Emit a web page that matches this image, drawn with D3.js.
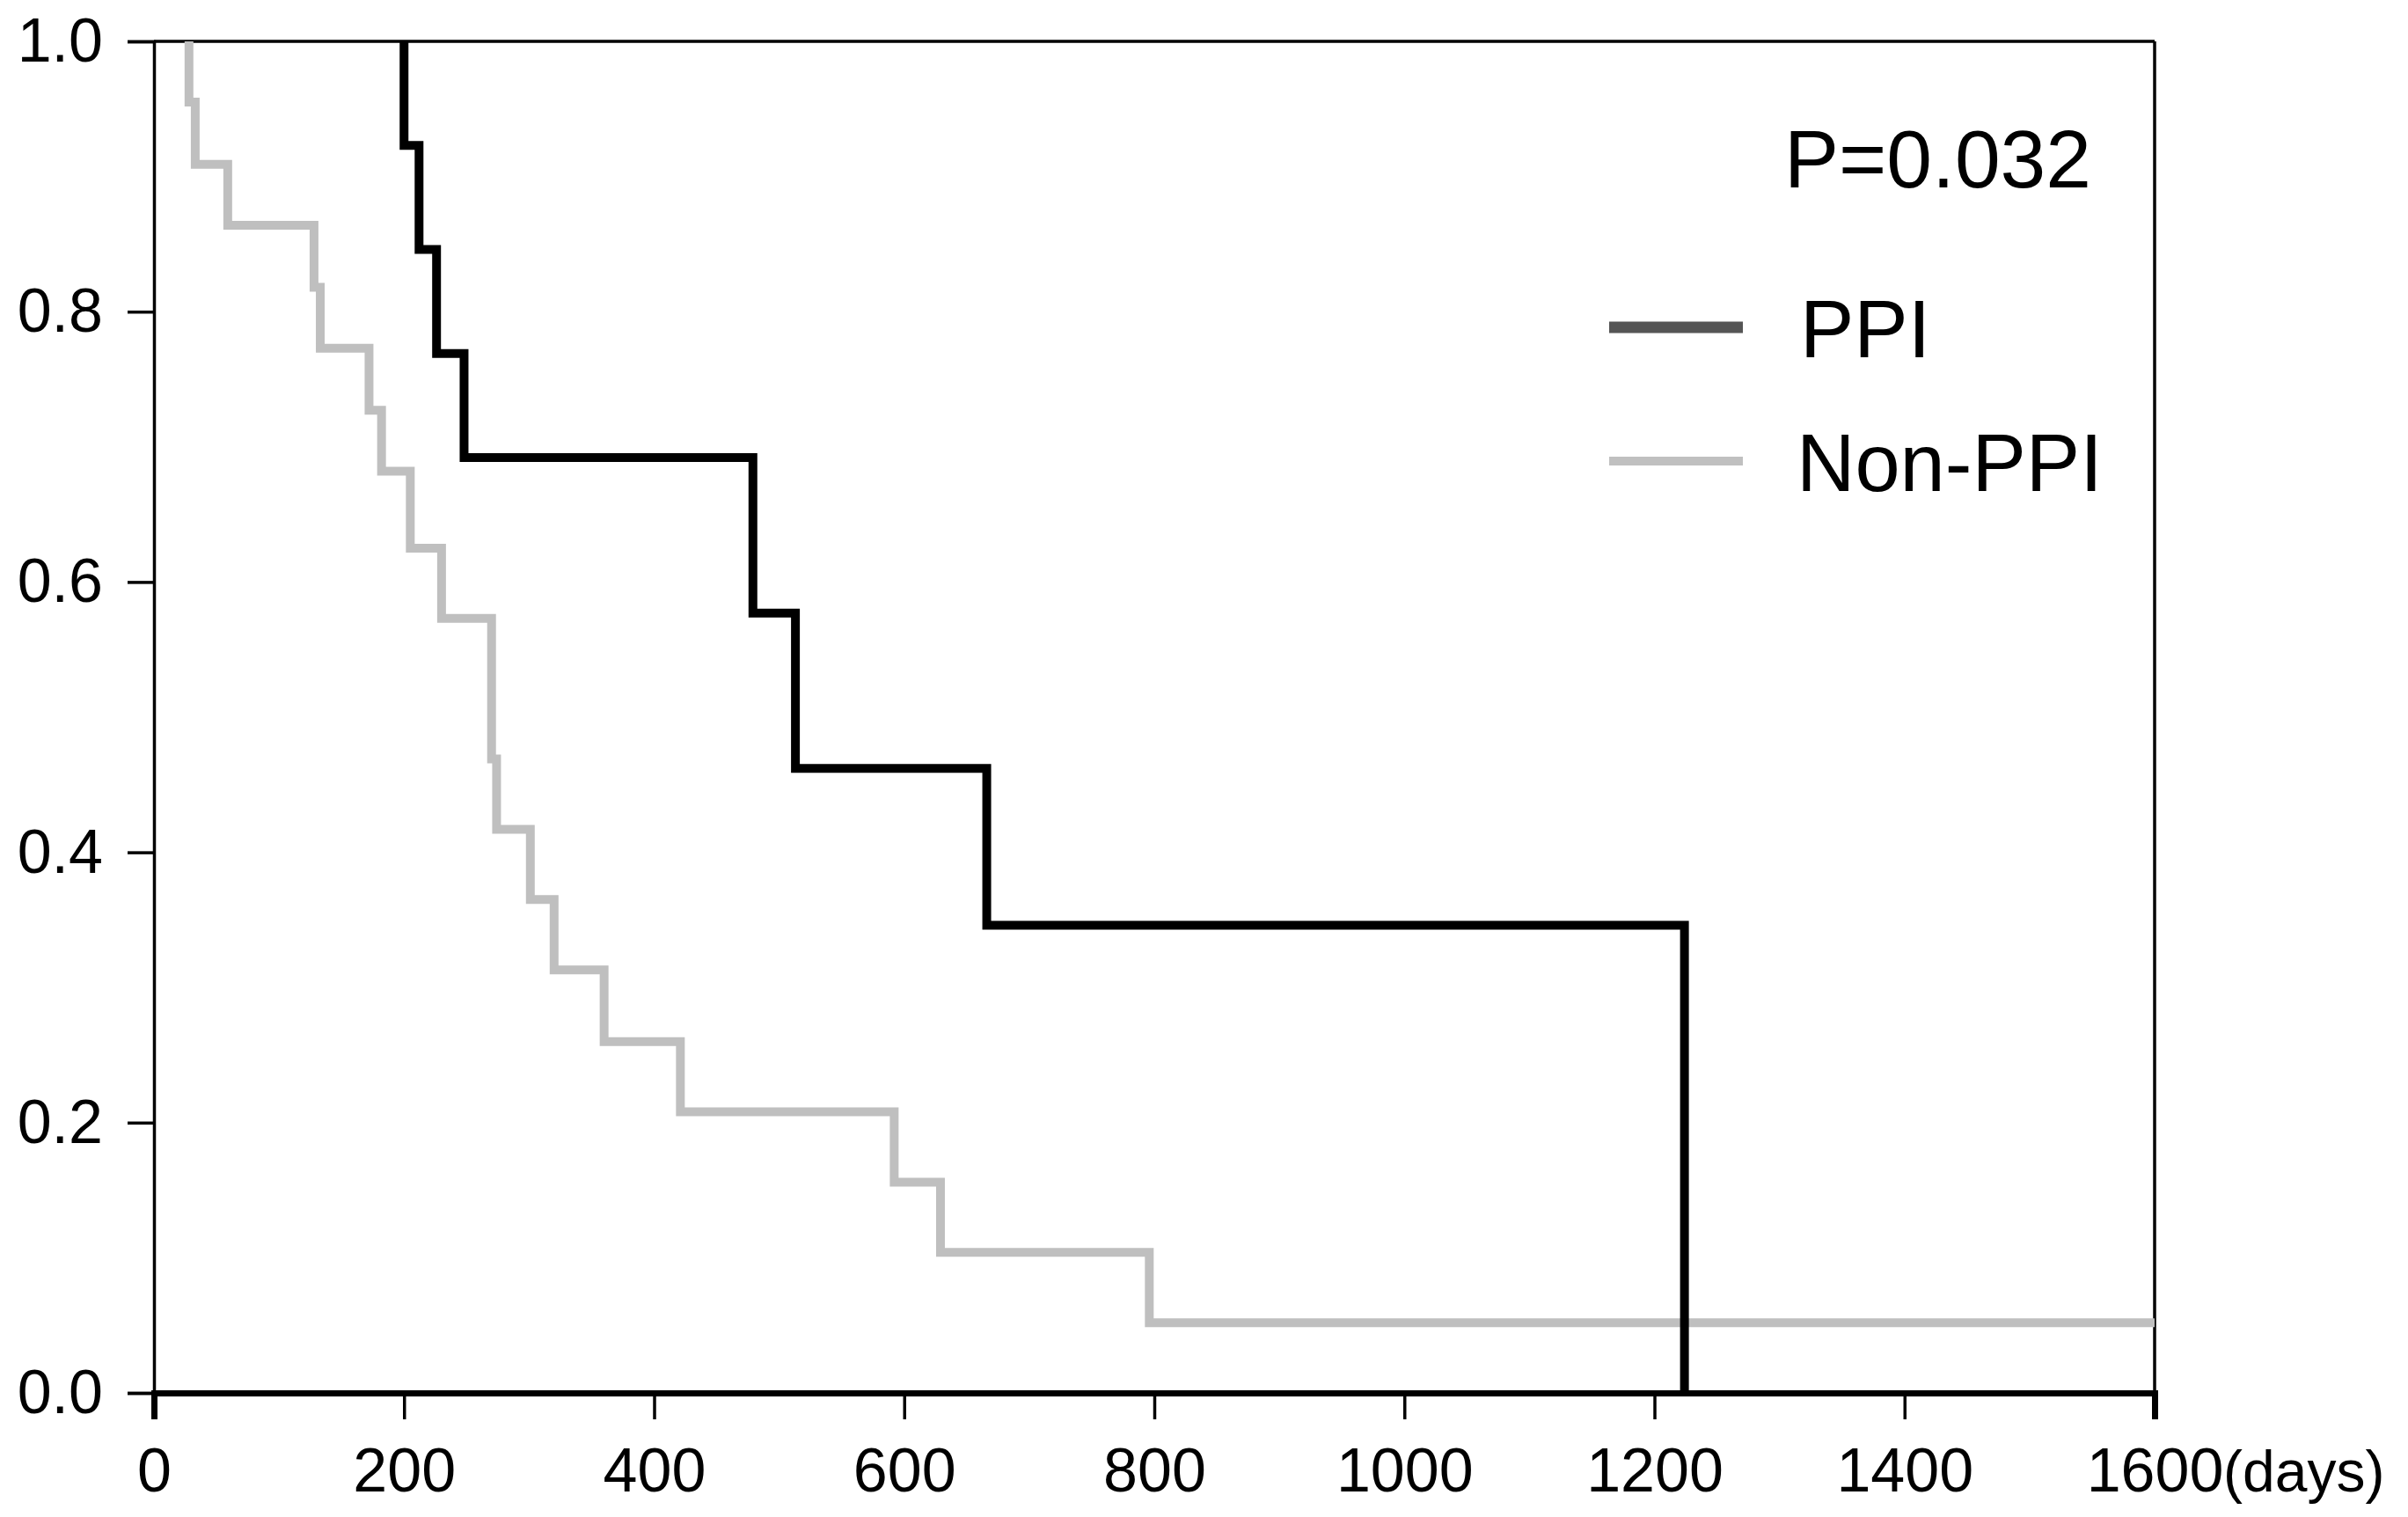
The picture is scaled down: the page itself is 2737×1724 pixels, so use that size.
<!DOCTYPE html>
<html>
<head>
<meta charset="utf-8">
<script src="https://cdn.jsdelivr.net/npm/d3@7/dist/d3.min.js"></script>
<style>
  html, body { margin: 0; padding: 0; background: #fff; }
  svg { display: block; }
  text { font-family: "Liberation Sans", Arial, Helvetica, sans-serif; fill: #000; }
</style>
</head>
<body>
<svg id="chart" width="2737" height="1724"></svg>
<script>
// ---- data ----
const xTicks = [0, 200, 400, 600, 800, 1000, 1200, 1400, 1600];
const yTicks = [0.0, 0.2, 0.4, 0.6, 0.8, 1.0];
const xUnit = "(days)";
const pValueLabel = "P=0.032";
const seriesNames = ["PPI", "Non-PPI"];

// PPI group: event times (days) and survival after each event
const ppiTimes = [200, 212, 226, 248, 479, 513, 666, 1224];
const ppiSurv  = [0.923, 0.846, 0.769, 0.692, 0.577, 0.462, 0.346, 0.0];

// Non-PPI group
const nonPpiTimes = [28, 33, 59, 128, 133, 172, 182, 205, 230, 270, 274, 301, 320, 360, 421, 592, 629, 796];
const nonPpiSurv  = [0.955, 0.909, 0.864, 0.818, 0.773, 0.727, 0.682, 0.625, 0.573, 0.469, 0.417, 0.365, 0.313, 0.260, 0.208, 0.156, 0.104, 0.052];
const nonPpiLastFollowUp = 1600;

// ---- layout ----
const m = { left: 175, right: 2449, top: 47, bottom: 1583 };
const svg = d3.select("#chart");

const x = d3.scaleLinear().domain([0, 1600]).range([m.left, m.right]);
const y = d3.scaleLinear().domain([0, 1]).range([m.bottom, m.top]);

function kmPoints(times, surv, lastTime) {
  const pts = [[times[0], 1]];
  times.forEach((t, i) => pts.push([t, surv[i]]));
  if (lastTime !== undefined) pts.push([lastTime, surv[surv.length - 1]]);
  return pts;
}

const line = d3.line().x(d => x(d[0])).y(d => y(d[1])).curve(d3.curveStepAfter);

// frame: top and right borders
svg.append("line").attr("x1", m.left).attr("x2", m.right).attr("y1", m.top).attr("y2", m.top)
  .attr("stroke", "#000").attr("stroke-width", 3.5);
svg.append("line").attr("x1", m.right).attr("x2", m.right).attr("y1", m.top).attr("y2", m.bottom)
  .attr("stroke", "#000").attr("stroke-width", 3.5);

// curves
svg.append("path").datum(kmPoints(nonPpiTimes, nonPpiSurv, nonPpiLastFollowUp))
  .attr("d", line).attr("fill", "none").attr("stroke", "#bfbfbf")
  .attr("stroke-width", 10).attr("stroke-linejoin", "miter").attr("stroke-linecap", "butt");
svg.append("path").datum(kmPoints(ppiTimes, ppiSurv))
  .attr("d", line).attr("fill", "none").attr("stroke", "#000")
  .attr("stroke-width", 10).attr("stroke-linejoin", "miter").attr("stroke-linecap", "butt");

// axes
const fs = 70;
const yAxis = d3.axisLeft(y).tickValues(yTicks).tickFormat(d3.format(".1f")).tickSize(30).tickPadding(28);
const gy = svg.append("g").attr("transform", `translate(${m.left},0)`).call(yAxis);
gy.select(".domain").attr("stroke", "#000").attr("stroke-width", 3.5);
gy.selectAll(".tick line").attr("stroke", "#000").attr("stroke-width", 3.5);
gy.selectAll(".tick text").attr("font-size", fs).attr("font-family", "Liberation Sans, Arial, sans-serif").attr("fill", "#000");

const xAxis = d3.axisBottom(x).tickValues(xTicks).tickFormat(d3.format("d")).tickSize(30).tickPadding(32);
const gx = svg.append("g").attr("transform", `translate(0,${m.bottom})`).call(xAxis);
gx.select(".domain").attr("stroke", "#000").attr("stroke-width", 7);
gx.selectAll(".tick line").attr("stroke", "#000").attr("stroke-width", 3.5);
gx.selectAll(".tick text").attr("font-size", fs).attr("font-family", "Liberation Sans, Arial, sans-serif").attr("fill", "#000");

svg.append("text").attr("x", 2527).attr("y", m.bottom + 30 + 32 + 0.71 * fs)
  .attr("font-size", 66).text(xUnit);

// p-value
svg.append("text").attr("x", 2028).attr("y", 213).attr("font-size", 93).text(pValueLabel);

// legend
const legendColors = ["#555555", "#c0c0c0"];
const legendY = [372, 524];
seriesNames.forEach((name, i) => {
  svg.append("line").attr("x1", 1829).attr("x2", 1981).attr("y1", legendY[i]).attr("y2", legendY[i])
    .attr("stroke", legendColors[i]).attr("stroke-width", i === 0 ? 13 : 10);
  svg.append("text").attr("x", i === 0 ? 2046 : 2042).attr("y", legendY[i] + 34)
    .attr("font-size", 92).text(name);
});
</script>
</body>
</html>
